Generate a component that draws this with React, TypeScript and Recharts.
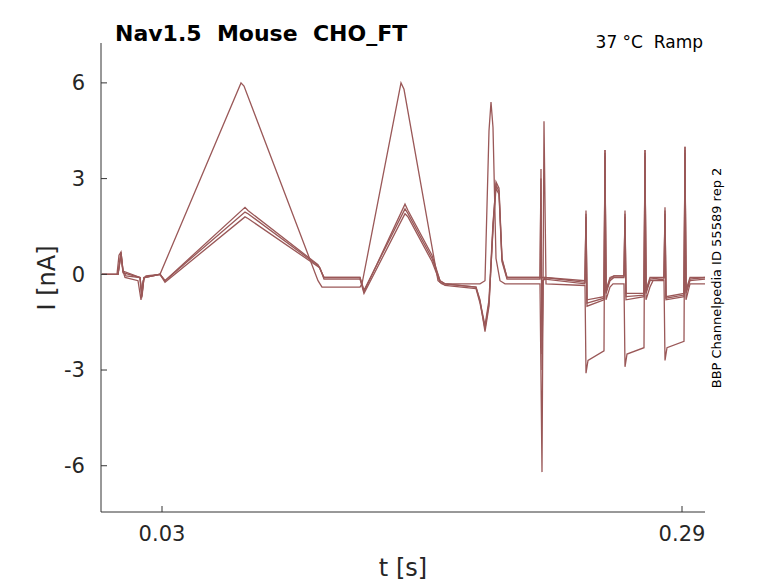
import { LineChart, Line, XAxis, YAxis } from "recharts";

// each trace: [time in s, current in nA]
const X_TICKS = [0.03, 0.29];
const Y_TICKS = [-6, -3, 0, 3, 6];

const traceA: [number, number][] = [
  [0, 0], [0.0075, 0], [0.0085, 0.6], [0.0095, 0.7], [0.0105, 0.1], [0.0115, -0.1], [0.018, -0.2], [0.0195, -0.8], [0.0205, -0.2], [0.022, -0.05], [0.029, 0],
  [0.0695, 6.0], [0.071, 5.9], [0.108, -0.2], [0.11, -0.4], [0.129, -0.4], [0.13, -0.3],
  [0.1495, 6.0], [0.151, 5.8], [0.168, -0.2], [0.17, -0.3], [0.189, -0.3], [0.1915, -0.2], [0.1935, 4.5], [0.1945, 5.4], [0.1955, 4.6], [0.197, 0.5], [0.199, -0.2], [0.2015, -0.3],
  [0.219, -0.3], [0.22, -6.2], [0.221, 4.8], [0.222, -0.3], [0.2415, -0.35], [0.242, -3.1], [0.243, -2.7], [0.251, -2.4], [0.2515, 3.9], [0.252, -0.8], [0.254, -0.4], [0.2555, -0.3],
  [0.261, -0.3], [0.2615, -2.9], [0.2625, -2.5], [0.271, -2.3], [0.2715, 3.9], [0.272, -0.8], [0.274, -0.4], [0.2755, -0.2],
  [0.281, -0.2], [0.2815, -2.7], [0.2825, -2.3], [0.291, -2.1], [0.2915, 4.0], [0.292, -0.8], [0.294, -0.3], [0.3015, -0.3],
];

const traceB: [number, number][] = [
  [0, 0], [0.008, 0], [0.0095, 0.7], [0.0105, 0.1], [0.012, -0.05], [0.019, -0.1], [0.02, -0.7], [0.021, -0.1], [0.029, 0], [0.0315, -0.2],
  [0.0715, 2.1], [0.073, 2.0], [0.108, 0.3], [0.111, -0.1], [0.129, -0.1], [0.131, -0.55], [0.1515, 2.2], [0.153, 2.0], [0.165, 0.6], [0.169, -0.2], [0.1715, -0.3],
  [0.187, -0.4], [0.189, -0.8], [0.1915, -1.8], [0.1935, -1.0], [0.1955, 1.5], [0.197, 2.9], [0.1985, 2.7], [0.2, 0.5], [0.2025, -0.1], [0.219, -0.1], [0.2195, 3.3], [0.22, -3.0], [0.2205, -0.2], [0.2215, -0.1],
  [0.2415, -0.2], [0.242, 2.0], [0.2425, -0.8], [0.251, -0.7], [0.2515, 3.9], [0.252, -0.5], [0.254, -0.1], [0.256, -0.05],
  [0.261, -0.05], [0.2615, 2.0], [0.262, -0.6], [0.271, -0.6], [0.2715, 3.9], [0.272, -0.5], [0.274, -0.1], [0.281, -0.1],
  [0.2815, 2.1], [0.282, -0.7], [0.291, -0.6], [0.2915, 4.0], [0.292, -0.5], [0.294, -0.1], [0.3015, -0.1],
];

const traceC: [number, number][] = [
  [0, 0], [0.008, 0], [0.0095, 0.65], [0.0105, 0.1], [0.019, -0.1], [0.0198, -0.75], [0.021, -0.1], [0.029, 0], [0.0315, -0.25],
  [0.0715, 1.8], [0.073, 1.75], [0.109, 0.2], [0.111, -0.15], [0.129, -0.15], [0.131, -0.6], [0.1515, 1.9], [0.153, 1.8], [0.165, 0.4], [0.169, -0.25], [0.1715, -0.35],
  [0.187, -0.45], [0.189, -0.9], [0.1915, -1.7], [0.1935, -0.9], [0.1955, 1.4], [0.197, 2.7], [0.1985, 2.5], [0.2, 0.4], [0.2025, -0.15], [0.219, -0.15], [0.2195, 3.0], [0.22, -2.5], [0.2205, -0.2], [0.2215, -0.15],
  [0.2415, -0.3], [0.242, 1.8], [0.2425, -1.0], [0.251, -0.8], [0.2515, 3.7], [0.252, -0.6], [0.254, -0.2], [0.256, -0.1],
  [0.261, -0.1], [0.2615, 1.8], [0.262, -0.8], [0.271, -0.7], [0.2715, 3.7], [0.272, -0.6], [0.274, -0.2], [0.281, -0.15],
  [0.2815, 1.9], [0.282, -0.8], [0.291, -0.7], [0.2915, 3.8], [0.292, -0.6], [0.294, -0.2], [0.3015, -0.15],
];

const traceD: [number, number][] = [
  [0, 0], [0.008, 0], [0.0095, 0.6], [0.0105, 0.05], [0.019, -0.1], [0.02, -0.6], [0.021, -0.1], [0.029, 0], [0.0315, -0.2],
  [0.0715, 1.95], [0.073, 1.9], [0.1085, 0.25], [0.111, -0.1], [0.129, -0.1], [0.131, -0.5], [0.1515, 2.05], [0.153, 1.9], [0.165, 0.5], [0.169, -0.2], [0.1715, -0.3],
  [0.187, -0.4], [0.189, -0.85], [0.1915, -1.6], [0.1935, -0.8], [0.1955, 1.6], [0.197, 2.8], [0.1985, 2.6], [0.2, 0.45], [0.2025, -0.1], [0.219, -0.1], [0.2215, -0.1],
  [0.2415, -0.25], [0.242, 1.9], [0.2425, -0.9], [0.251, -0.75], [0.2515, 3.8], [0.252, -0.55], [0.254, -0.15], [0.256, -0.05],
  [0.261, -0.05], [0.2615, 1.9], [0.262, -0.7], [0.271, -0.65], [0.2715, 3.8], [0.272, -0.55], [0.274, -0.15], [0.281, -0.1],
  [0.2815, 2.0], [0.282, -0.75], [0.291, -0.65], [0.2915, 3.9], [0.292, -0.55], [0.294, -0.15], [0.3015, -0.1],
];

const TRACES = [traceA, traceB, traceC, traceD];
const COLOR = "#9a5858";
const tickStyle = { fill: "#262626", fontSize: 21, fontFamily: "DejaVu Sans" };

export default function App() {
  return (
    <div style={{ position: "absolute", left: 0, top: 0, width: 778, height: 583, background: "#fff", fontFamily: "DejaVu Sans" }}>
      <LineChart width={778} height={583} margin={{ top: 43, right: 73, bottom: 0, left: 0 }}>
        <XAxis type="number" dataKey="t" domain={[-0.0005, 0.3015]} ticks={X_TICKS} height={71}
          tick={tickStyle} tickSize={-6} tickMargin={20} stroke="#333" tickFormatter={(v: number) => String(v)}
          allowDataOverflow />
        <YAxis type="number" dataKey="v" domain={[-7.45, 7.25]} ticks={Y_TICKS} width={101}
          tick={tickStyle} tickSize={-6} tickMargin={22} stroke="#333" allowDataOverflow />
        {TRACES.map((tr, i) => (
          <Line key={i} data={tr.map(([t, v]) => ({ t, v }))} dataKey="v" type="linear" stroke={COLOR}
            strokeWidth={1.3} dot={false} isAnimationActive={false} />
        ))}
        <text x={115} y={41} fontSize={22} fontWeight="bold" fill="#000">{"Nav1.5\u00a0\u00a0Mouse\u00a0\u00a0CHO_FT"}</text>
        <text x={703} y={48} fontSize={17} textAnchor="end" fill="#000">{"37 °C\u00a0\u00a0Ramp"}</text>
        <text x={0} y={0} fontSize={13} fill="#000" textAnchor="middle" transform="translate(721,278) rotate(-90)">BBP Channelpedia ID 55589 rep 2</text>
        <text x={0} y={0} fontSize={24} fill="#262626" textAnchor="middle" transform="translate(55,278) rotate(-90)">I [nA]</text>
        <text x={403} y={576} fontSize={24} fill="#262626" textAnchor="middle">t [s]</text>
      </LineChart>
    </div>
  );
}
